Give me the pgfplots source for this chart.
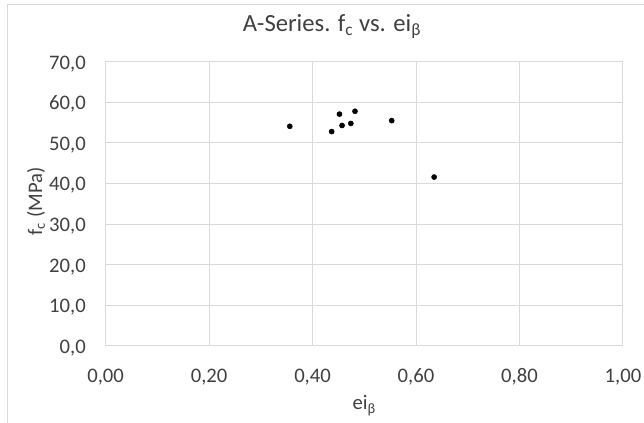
\documentclass[border=0pt]{standalone}
\usepackage{fontspec}
\setmainfont{Carlito}
\usepackage{pgfplots}
\pgfplotsset{compat=1.18}
\definecolor{gridc}{HTML}{D9D9D9}
\definecolor{txt}{HTML}{404040}
\begin{document}
\begin{tikzpicture}
\path[use as bounding box] (0pt,0pt) rectangle (483pt,317.25pt);
\draw[gridc, line width=0.75pt] (5.25pt,0pt) -- (5.25pt,313.5pt) -- (483pt,313.5pt);
\begin{axis}[
  at={(79.2pt,57.75pt)}, anchor=south west,
  scale only axis, width=388.05pt, height=213.2pt,
  xmin=0, xmax=1, ymin=0, ymax=70,
  xtick={0,0.2,0.4,0.6,0.8,1}, ytick={0,10,20,30,40,50,60,70},
  axis line style={draw=gridc, line width=0.75pt},
  grid=major, major grid style={draw=gridc, line width=0.75pt},
  major tick length=0pt,
  tick label style={font=\fontsize{15.5}{18}\selectfont, text=txt, inner sep=0pt},
  xticklabel style={anchor=north, yshift=-17pt, text height=10pt, text depth=0pt,
    /pgf/number format/.cd, fixed, fixed zerofill, precision=2, use comma},
  yticklabel style={anchor=east, xshift=-14.7pt, text height=10pt, text depth=0pt, yshift=-0.5pt,
    /pgf/number format/.cd, fixed, fixed zerofill, precision=1, use comma},
  /pgf/number format/assume math mode=true,
  title={A-Series. f\textsubscript{c} vs. ei\textsubscript{β}},
  title style={at={(axis description cs:0.4376,1.078)}, anchor=base,
    font=\fontsize{18.5}{22}\selectfont, text=txt},
  xlabel={ei\textsubscript{β}},
  xlabel style={at={(axis description cs:0.5,-0.225)}, anchor=base,
    font=\fontsize{15.5}{18}\selectfont, text=txt},
  ylabel={f\textsubscript{c} (MPa)},
  ylabel style={at={(axis description cs:-0.1345,0.508)}, anchor=center,
    font=\fontsize{15.5}{18}\selectfont, text=txt},
]
\addplot[only marks, mark=*, mark size=1.9pt, black] coordinates {
  (0.356,54.1) (0.437,52.8) (0.452,57.1) (0.457,54.3)
  (0.474,54.8) (0.482,57.8) (0.553,55.5) (0.635,41.6)
};
\end{axis}
\end{tikzpicture}
\end{document}
